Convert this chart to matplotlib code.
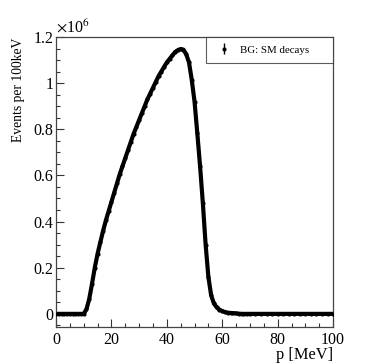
import numpy as np
import matplotlib
matplotlib.use("Agg")
import matplotlib.pyplot as plt
from matplotlib.ticker import MultipleLocator, FuncFormatter

# momentum (MeV) and events per 100 keV (units of 1e6)
p_mev = [0, 1, 2, 3, 4, 5, 6, 7, 8, 9, 10, 11, 12, 13, 14, 15, 16, 17, 18, 19,
         20, 21, 22, 23, 24, 25, 26, 27, 28, 29, 30, 31, 32, 33, 34, 35, 36, 37,
         38, 39, 40, 41, 42, 43, 44, 45, 46, 47, 48, 49, 50, 51, 52, 53, 54, 55,
         56, 57, 58, 59, 60, 61, 62, 63, 64, 65, 66, 67, 68, 69, 70, 72, 74, 76,
         78, 80, 82, 84, 86, 88, 90, 92, 94, 96, 98, 100]
events_1e6 = [0, 0, 0, 0, 0, 0, 0, 0, 0, 0, 0.0, 0.02, 0.065, 0.13, 0.20, 0.26,
              0.31, 0.36, 0.405, 0.445, 0.485, 0.525, 0.565, 0.605, 0.64, 0.675,
              0.71, 0.745, 0.78, 0.81, 0.84, 0.87, 0.90, 0.93, 0.955, 0.98, 1.005,
              1.03, 1.05, 1.07, 1.09, 1.105, 1.12, 1.135, 1.143, 1.148, 1.145,
              1.125, 1.09, 1.014, 0.92, 0.783, 0.64, 0.48, 0.30, 0.16, 0.08,
              0.045, 0.028, 0.018, 0.012, 0.008, 0.005, 0.004, 0.003, 0.002,
              0.001, 0, 0, 0, 0, 0, 0, 0, 0, 0, 0, 0, 0, 0, 0, 0, 0, 0, 0, 0]
series_label = "BG: SM decays"
x_label = "p [MeV]"
y_label = "Events per 100keV"

plt.rcParams['font.family'] = ['Liberation Serif', 'DejaVu Serif']
plt.rcParams['mathtext.fontset'] = 'stix'

fig = plt.figure(figsize=(3.74, 3.64), dpi=100)
ax = fig.add_axes([0.1497, 0.1016, 0.7409, 0.7968])

ax.plot(p_mev, events_1e6, color='black', lw=3.0, solid_capstyle='round',
        solid_joinstyle='round', zorder=2)
h = ax.errorbar(p_mev, events_1e6, yerr=np.zeros(len(p_mev)), fmt='o',
                color='black', ms=3.0, mew=0, elinewidth=1.0, capsize=0,
                zorder=3, label=series_label)

ax.set_xlim(0, 100)
ax.set_ylim(-0.057, 1.2)

ax.xaxis.set_major_locator(MultipleLocator(20))
ax.xaxis.set_minor_locator(MultipleLocator(5))
ax.yaxis.set_major_locator(MultipleLocator(0.2))
ax.yaxis.set_minor_locator(MultipleLocator(0.05))
ax.yaxis.set_major_formatter(FuncFormatter(lambda v, pos: ('%g' % round(v, 2))))
ax.tick_params(which='both', direction='in', top=False, right=False,
               labelsize=11.5, color='#333333')
ax.tick_params(which='major', length=6, width=0.8)
ax.tick_params(which='minor', length=3, width=0.8)
ax.tick_params(axis='x', pad=3.5)
ax.tick_params(axis='y', pad=2)
for s in ax.spines.values():
    s.set_color('#444444')
    s.set_linewidth(0.9)

fig.text(333 / 374, 1 - 355 / 364, x_label, ha='right', va='center', fontsize=11.8)
fig.text(19 / 374, 1 - 38 / 364, y_label, ha='center', va='top', rotation=90,
         fontsize=9.8)
fig.text(56 / 374, 1 - 33 / 364, r'$\times$10$^{6}$', ha='left', va='baseline',
         fontsize=11.5)

leg = ax.legend(loc='upper left', bbox_to_anchor=(0.5415, 0.91, 0.4585, 0.09),
                mode='expand', frameon=True, fancybox=False, fontsize=7.8,
                handlelength=1.9, handletextpad=0.47, borderpad=0.75,
                borderaxespad=0)
leg.get_frame().set_edgecolor('#333333')
leg.get_frame().set_linewidth(0.8)

fig.savefig('out.png', dpi=100)
